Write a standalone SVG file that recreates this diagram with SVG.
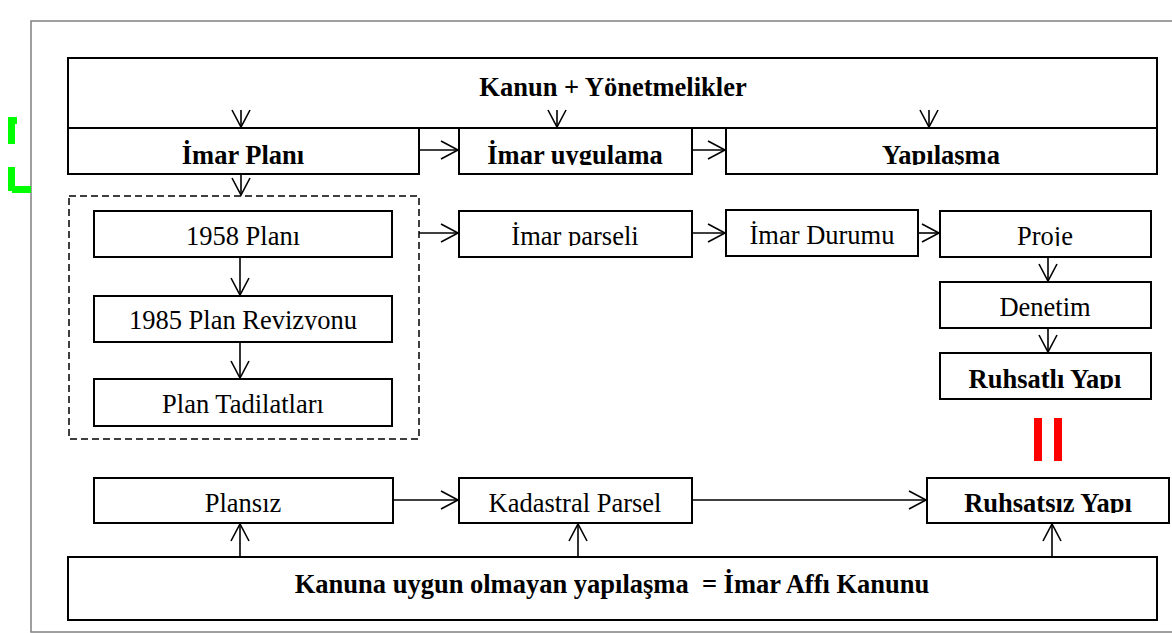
<svg xmlns="http://www.w3.org/2000/svg" width="1172" height="633" viewBox="0 0 1172 633">
<style>
.box{fill:#fff;stroke:#000;stroke-width:2}
.t{font-family:"Liberation Serif","Times New Roman",serif;font-size:26.5px;fill:#000;text-anchor:middle}
.b{font-weight:bold}
.c{fill:none;stroke:#000;stroke-width:1.6;marker-end:url(#ah)}
</style>
<defs>
<marker id="ah" viewBox="-19 -11 21 22" markerWidth="21" markerHeight="22" refX="0" refY="0" orient="auto" markerUnits="userSpaceOnUse">
<path d="M-17,-9 L0,0 L-17,9" fill="none" stroke="#000" stroke-width="1.6"/>
</marker>
<clipPath id="k164" clipPathUnits="userSpaceOnUse"><rect x="0" y="0" width="1172" height="165"/></clipPath>
<clipPath id="k245" clipPathUnits="userSpaceOnUse"><rect x="0" y="0" width="1172" height="246"/></clipPath>
<clipPath id="k329" clipPathUnits="userSpaceOnUse"><rect x="0" y="0" width="1172" height="330"/></clipPath>
<clipPath id="k388" clipPathUnits="userSpaceOnUse"><rect x="0" y="0" width="1172" height="389"/></clipPath>
<clipPath id="k512" clipPathUnits="userSpaceOnUse"><rect x="0" y="0" width="1172" height="513"/></clipPath>
</defs>
<rect x="0" y="0" width="1172" height="633" fill="#fff"/>
<rect x="31" y="21" width="1160" height="611" fill="none" stroke="#808080" stroke-width="1.5"/>
<g id="green-marks" fill="#00ff00">
<rect x="8" y="117" width="7" height="27"/>
<rect x="8" y="117" width="9" height="7"/>
<rect x="8" y="167" width="7" height="24"/>
<rect x="12" y="186" width="19" height="7"/>
</g>
<g id="red-marks" fill="#ff0000">
<rect x="1034" y="418" width="8" height="43"/>
<rect x="1054" y="418" width="8" height="43"/>
</g>
<g id="kanun"><rect class="box" x="68" y="58" width="1089" height="70"/><text class="t b" x="613" y="96">Kanun + Yönetmelikler</text></g>
<g id="imar-plani"><rect class="box" x="68" y="128" width="351" height="46"/><text class="t b" x="243" y="164">İmar Planı</text></g>
<g id="imar-uygulama"><rect class="box" x="459" y="128" width="233" height="46"/><text class="t b" x="575" y="164" clip-path="url(#k164)">İmar uygulama</text></g>
<g id="yapilasma"><rect class="box" x="726" y="128" width="431" height="46"/><text class="t b" x="941" y="164" clip-path="url(#k164)">Yapılaşma</text></g>
<g id="plan-group"><rect x="69" y="196" width="350" height="243" fill="none" stroke="#000" stroke-width="1.5" stroke-dasharray="7 4"/></g>
<g id="plan-1958"><rect class="box" x="94" y="211" width="298" height="46"/><text class="t" x="243" y="245">1958 Planı</text></g>
<g id="plan-1985"><rect class="box" x="94" y="296" width="298" height="46"/><text class="t" x="243" y="329" clip-path="url(#k329)">1985 Plan Revizyonu</text></g>
<g id="plan-tadilat"><rect class="box" x="94" y="379" width="298" height="47"/><text class="t" x="243" y="413">Plan Tadilatları</text></g>
<g id="imar-parseli"><rect class="box" x="459" y="211" width="233" height="46"/><text class="t" x="575" y="245" clip-path="url(#k245)">İmar parseli</text></g>
<g id="imar-durumu"><rect class="box" x="726" y="210" width="192" height="46"/><text class="t" x="822" y="244">İmar Durumu</text></g>
<g id="proje"><rect class="box" x="940" y="211" width="211" height="46"/><text class="t" x="1045" y="245" clip-path="url(#k245)">Proje</text></g>
<g id="denetim"><rect class="box" x="940" y="282" width="211" height="46"/><text class="t" x="1045" y="316">Denetim</text></g>
<g id="ruhsatli"><rect class="box" x="940" y="353" width="211" height="46"/><text class="t b" x="1045" y="388" clip-path="url(#k388)">Ruhsatlı Yapı</text></g>
<g id="plansiz"><rect class="box" x="94" y="478" width="299" height="45"/><text class="t" x="243" y="512">Plansız</text></g>
<g id="kadastral"><rect class="box" x="459" y="478" width="233" height="45"/><text class="t" x="575" y="512">Kadastral Parsel</text></g>
<g id="ruhsatsiz"><rect class="box" x="927" y="478" width="242" height="45"/><text class="t b" x="1048" y="512" clip-path="url(#k512)">Ruhsatsız Yapı</text></g>
<g id="imar-affi"><rect class="box" x="68" y="557" width="1089" height="63"/><text class="t b" x="612" y="593" xml:space="preserve">Kanuna uygun olmayan yapılaşma  = İmar Affı Kanunu</text></g>
<g id="connectors">
<path class="c" d="M241,110 V127"/>
<path class="c" d="M557,110 V127"/>
<path class="c" d="M929,110 V127"/>
<path class="c" d="M419,150 H458"/>
<path class="c" d="M692,150 H725"/>
<path class="c" d="M241,174 V195"/>
<path class="c" d="M240,257 V295"/>
<path class="c" d="M240,342 V378"/>
<path class="c" d="M419,233 H458"/>
<path class="c" d="M692,233 H725"/>
<path class="c" d="M918,233 H939"/>
<path class="c" d="M1048,257 V281"/>
<path class="c" d="M1048,328 V352"/>
<path class="c" d="M393,500 H458"/>
<path class="c" d="M692,500 H926"/>
<path class="c" d="M240,557 V524"/>
<path class="c" d="M578,557 V524"/>
<path class="c" d="M1052,557 V524"/>
</g>
</svg>
